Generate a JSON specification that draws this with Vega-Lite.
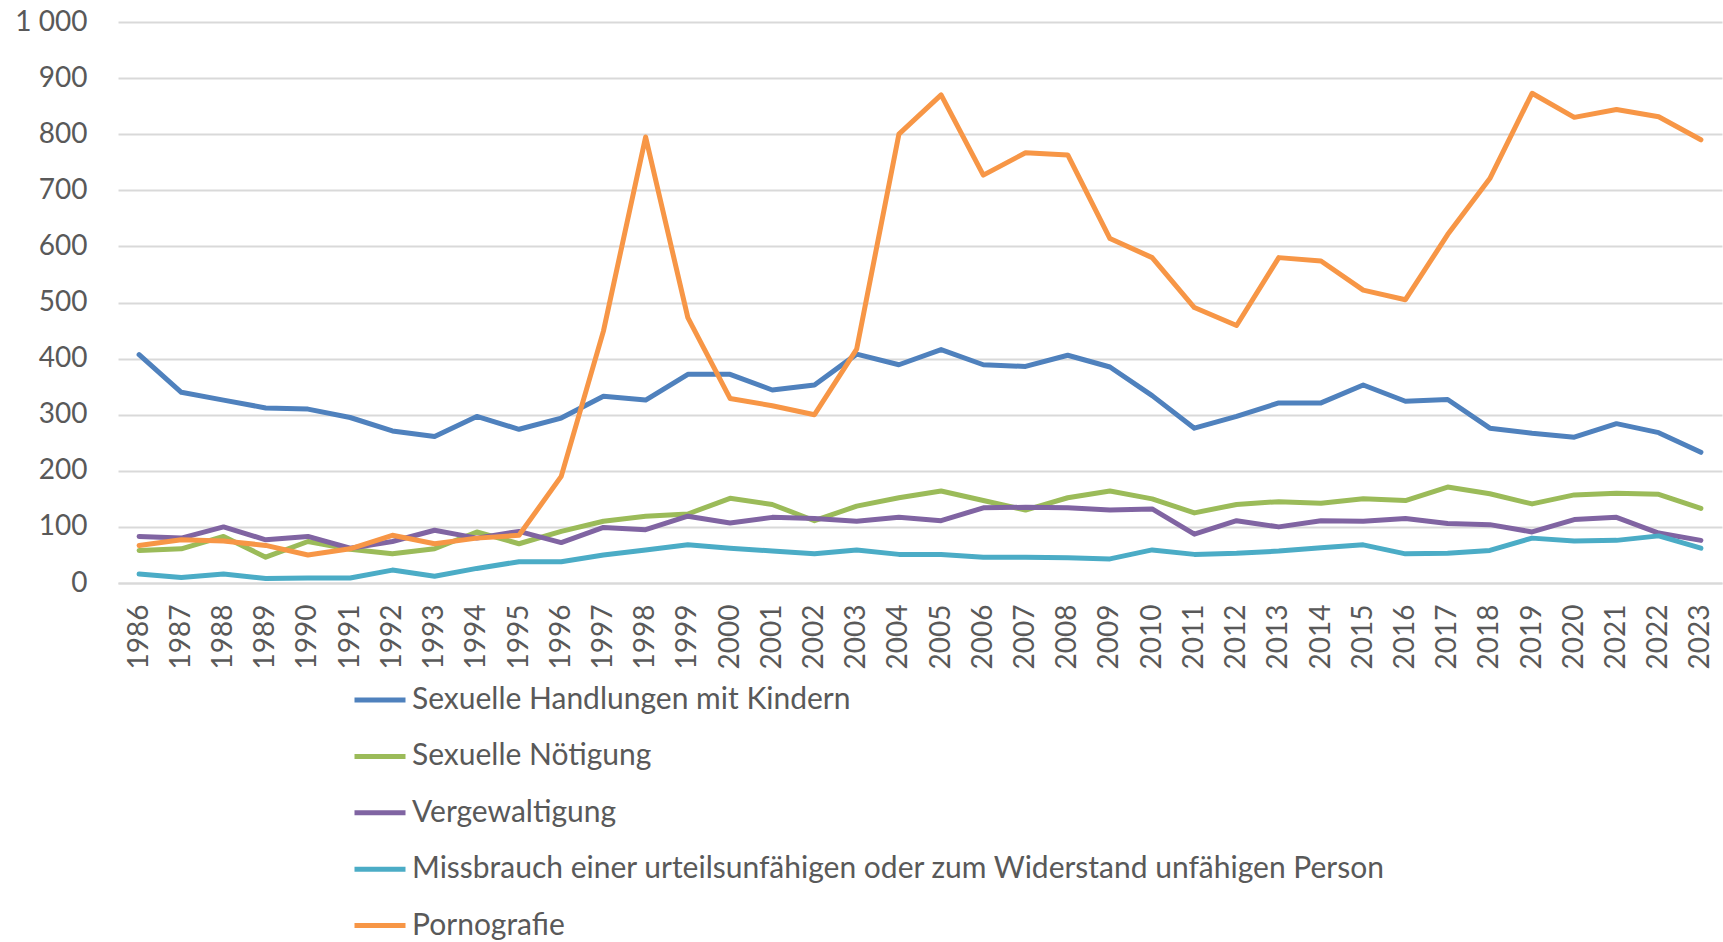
{
  "$schema": "https://vega.github.io/schema/vega-lite/v6.json",
  "autosize": {"type": "none"},
  "padding": {"left": 118, "top": 22, "right": 1, "bottom": 359},
  "width": 1604,
  "height": 561,
  "background": "white",
  "config": {"view": {"stroke": null}},
  "datasets": {
    "raw": [
      {"year": 1986, "K": 407, "N": 58, "V": 83, "M": 16, "P": 67},
      {"year": 1987, "K": 340, "N": 61, "V": 80, "M": 10, "P": 77},
      {"year": 1988, "K": 326, "N": 83, "V": 100, "M": 16, "P": 75},
      {"year": 1989, "K": 312, "N": 46, "V": 77, "M": 8, "P": 67},
      {"year": 1990, "K": 310, "N": 74, "V": 83, "M": 9, "P": 50},
      {"year": 1991, "K": 295, "N": 60, "V": 62, "M": 9, "P": 61},
      {"year": 1992, "K": 271, "N": 52, "V": 74, "M": 23, "P": 85},
      {"year": 1993, "K": 261, "N": 61, "V": 94, "M": 12, "P": 70},
      {"year": 1994, "K": 297, "N": 91, "V": 80, "M": 26, "P": 80},
      {"year": 1995, "K": 274, "N": 70, "V": 92, "M": 38, "P": 85},
      {"year": 1996, "K": 294, "N": 92, "V": 72, "M": 38, "P": 190},
      {"year": 1997, "K": 333, "N": 110, "V": 99, "M": 50, "P": 449},
      {"year": 1998, "K": 326, "N": 119, "V": 95, "M": 59, "P": 795},
      {"year": 1999, "K": 372, "N": 123, "V": 119, "M": 68, "P": 473},
      {"year": 2000, "K": 372, "N": 151, "V": 107, "M": 62, "P": 329},
      {"year": 2001, "K": 344, "N": 140, "V": 117, "M": 57, "P": 316},
      {"year": 2002, "K": 353, "N": 111, "V": 115, "M": 52, "P": 300},
      {"year": 2003, "K": 408, "N": 137, "V": 110, "M": 59, "P": 417},
      {"year": 2004, "K": 389, "N": 152, "V": 117, "M": 51, "P": 800},
      {"year": 2005, "K": 416, "N": 164, "V": 111, "M": 51, "P": 870},
      {"year": 2006, "K": 389, "N": 147, "V": 134, "M": 46, "P": 727},
      {"year": 2007, "K": 386, "N": 130, "V": 135, "M": 46, "P": 767},
      {"year": 2008, "K": 406, "N": 152, "V": 134, "M": 45, "P": 763},
      {"year": 2009, "K": 385, "N": 164, "V": 130, "M": 43, "P": 614},
      {"year": 2010, "K": 334, "N": 150, "V": 132, "M": 59, "P": 580},
      {"year": 2011, "K": 276, "N": 125, "V": 87, "M": 51, "P": 491},
      {"year": 2012, "K": 297, "N": 140, "V": 111, "M": 53, "P": 459},
      {"year": 2013, "K": 321, "N": 145, "V": 100, "M": 57, "P": 580},
      {"year": 2014, "K": 321, "N": 142, "V": 111, "M": 63, "P": 574},
      {"year": 2015, "K": 353, "N": 150, "V": 110, "M": 68, "P": 522},
      {"year": 2016, "K": 324, "N": 147, "V": 115, "M": 52, "P": 505},
      {"year": 2017, "K": 327, "N": 171, "V": 106, "M": 53, "P": 621},
      {"year": 2018, "K": 276, "N": 159, "V": 104, "M": 58, "P": 721},
      {"year": 2019, "K": 267, "N": 141, "V": 91, "M": 80, "P": 873},
      {"year": 2020, "K": 260, "N": 157, "V": 113, "M": 75, "P": 830},
      {"year": 2021, "K": 284, "N": 160, "V": 117, "M": 76, "P": 844},
      {"year": 2022, "K": 268, "N": 158, "V": 89, "M": 84, "P": 831},
      {"year": 2023, "K": 233, "N": 133, "V": 76, "M": 62, "P": 790}
    ]
  },
  "data": {"name": "raw"},
  "transform": [
    {"fold": ["K", "N", "V", "M", "P"], "as": ["key", "value"]},
    {"lookup": "key", "from": {"data": {"values": [
      {"key": "K", "series": "Sexuelle Handlungen mit Kindern", "ord": 1},
      {"key": "N", "series": "Sexuelle Nötigung", "ord": 2},
      {"key": "V", "series": "Vergewaltigung", "ord": 3},
      {"key": "M", "series": "Missbrauch einer urteilsunfähigen oder zum Widerstand unfähigen Person", "ord": 4},
      {"key": "P", "series": "Pornografie", "ord": 5}
    ]}, "key": "key", "fields": ["series", "ord"]}}
  ],
  "mark": {"type": "line", "strokeWidth": 5, "strokeCap": "round", "strokeJoin": "round"},
  "encoding": {
    "x": {
      "field": "year", "type": "ordinal",
      "scale": {"type": "point", "padding": 0.5},
      "axis": {
        "title": null, "labelAngle": -90, "labelAlign": "right", "labelBaseline": "middle",
        "labelFont": "Lato", "labelFontSize": 28, "labelColor": "#595959",
        "labelPadding": 21, "ticks": false, "tickSize": 0,
        "domainColor": "#d9d9d9", "domainWidth": 2, "grid": false
      }
    },
    "y": {
      "field": "value", "type": "quantitative",
      "scale": {"domain": [0, 1000], "nice": false},
      "axis": {
        "title": null, "values": [0, 100, 200, 300, 400, 500, 600, 700, 800, 900, 1000],
        "labelExpr": "datum.value >= 1000 ? '1 000' : datum.label",
        "labelFont": "Lato", "labelFontSize": 28, "labelColor": "#595959",
        "labelPadding": 31, "ticks": false, "tickSize": 0, "domain": false,
        "grid": true, "gridColor": "#d9d9d9", "gridWidth": 2
      }
    },
    "color": {
      "field": "series", "type": "nominal",
      "sort": ["Sexuelle Handlungen mit Kindern", "Sexuelle Nötigung", "Vergewaltigung", "Missbrauch einer urteilsunfähigen oder zum Widerstand unfähigen Person", "Pornografie"],
      "scale": {
        "domain": ["Sexuelle Handlungen mit Kindern", "Sexuelle Nötigung", "Vergewaltigung", "Missbrauch einer urteilsunfähigen oder zum Widerstand unfähigen Person", "Pornografie"],
        "range": ["#4F81BD", "#9BBB59", "#8064A2", "#4BACC6", "#F79646"]
      },
      "legend": {
        "title": null, "orient": "none", "legendX": 234, "legendY": 650,
        "direction": "vertical", "padding": 0,
        "symbolType": "stroke", "symbolSize": 2601, "symbolStrokeWidth": 5,
        "labelFont": "Lato", "labelFontSize": 30, "labelColor": "#595959",
        "labelOffset": 4, "rowPadding": 13.4, "labelLimit": 1500
      }
    },
    "order": {"field": "ord", "type": "quantitative"}
  }
}
